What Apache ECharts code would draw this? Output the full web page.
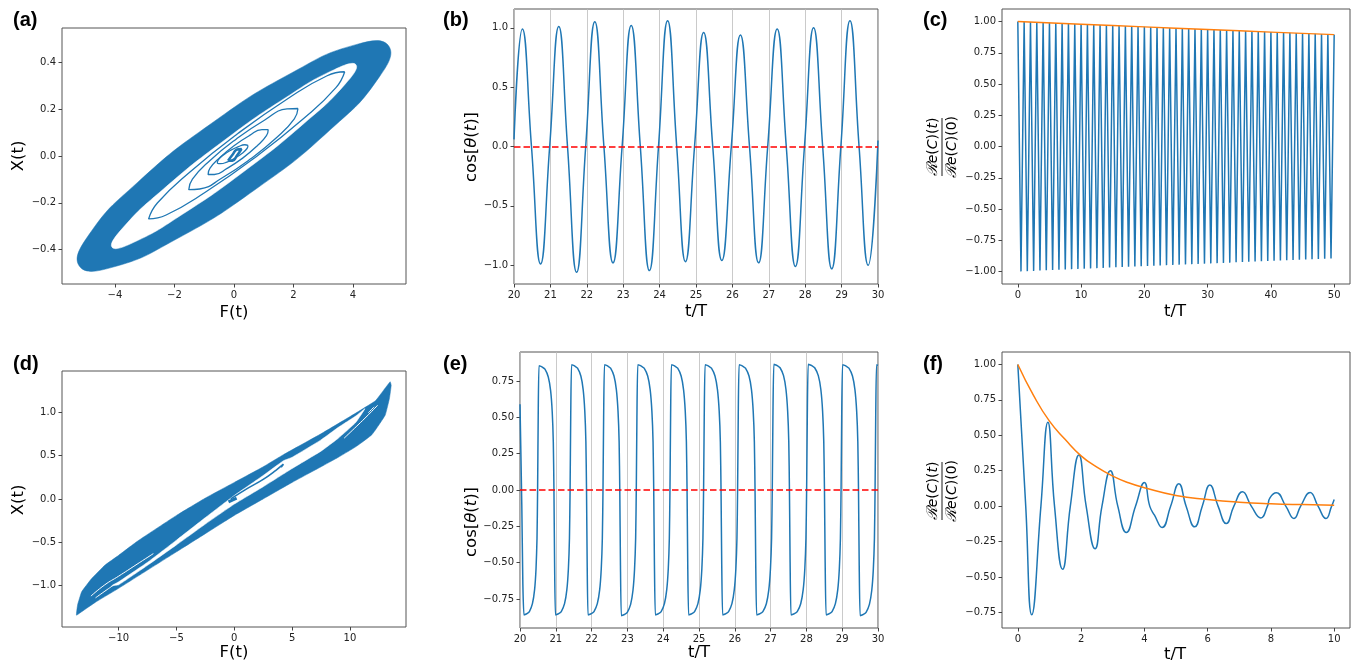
<!DOCTYPE html>
<html>
<head>
<meta charset="UTF-8" />
<title>phase portraits and correlations</title>
<script src="https://cdn.jsdelivr.net/npm/echarts@6/dist/echarts.min.js"></script>
<style>
  html, body { margin: 0; padding: 0; background: #fff; }
  #main { width: 1352px; height: 666px; }
</style>
</head>
<body>
<div id="main"></div>
<script>
// ---- (a) phase portrait: band (outer / inner edge) and inner loops, [F, X]
var aOuter = [[5.2,0.47],[4.128,0.477],[1.95,0.356],[-0.75,0.14],[-3.25,-0.114],[-4.878,-0.337],[-5.2,-0.47],[-4.128,-0.477],[-1.95,-0.356],[0.75,-0.14],[3.25,0.114],[4.878,0.337]];
var aInner = [[4.1,0.39],[3.367,0.369],[1.731,0.249],[-0.368,0.063],[-2.369,-0.141],[-3.735,-0.307],[-4.1,-0.39],[-3.367,-0.369],[-1.731,-0.249],[0.368,-0.063],[2.369,0.141],[3.735,0.307]];
var aLoop1 = [[3.72,0.36],[3.13,0.343],[1.816,0.246],[0.129,0.096],[-1.48,-0.068],[-2.576,-0.201],[-2.87,-0.269],[-2.28,-0.252],[-0.966,-0.155],[0.722,-0.005],[2.33,0.159],[3.426,0.292],[3.72,0.36]];
var aLoop2 = [[2.15,0.203],[1.782,0.201],[1.021,0.153],[0.07,0.072],[-0.815,-0.02],[-1.397,-0.099],[-1.52,-0.144],[-1.152,-0.141],[-0.391,-0.093],[0.56,-0.012],[1.445,0.08],[2.027,0.159],[2.15,0.203]];
var aLoop3 = [[1.15,0.113],[0.94,0.113],[0.514,0.087],[-0.011,0.043],[-0.496,-0.009],[-0.811,-0.053],[-0.87,-0.079],[-0.66,-0.079],[-0.234,-0.053],[0.291,-0.009],[0.776,0.043],[1.091,0.087],[1.15,0.113]];
var aLoop4 = [[0.47,0.045],[0.364,0.048],[0.148,0.04],[-0.119,0.024],[-0.366,0.003],[-0.528,-0.017],[-0.56,-0.03],[-0.454,-0.033],[-0.239,-0.026],[0.029,-0.009],[0.277,0.012],[0.438,0.032],[0.47,0.045]];
var aCore = [[-0.2,-0.02],[-0.05,0.005],[0.1,0.028],[0.25,0.03],[0.1,0.002],[-0.05,-0.02],[-0.2,-0.02]];
var aXTicks = [-4,-2,0,2,4];
var aYTicks = [-0.4,-0.2,0,0.2,0.4];

// ---- (b) cos theta, 20..30
var bStartV = 0.06, bEndV = 0.05;
var bPeakT = [20.23,21.23,22.22,23.22,24.22,25.21,26.22,27.23,28.23,29.23];
var bPeakV = [0.99,1.01,1.05,1.02,1.06,0.96,0.94,0.99,1.00,1.06];
var bTroughT = [20.73,21.72,22.72,23.72,24.71,25.71,26.72,27.73,28.73,29.73];
var bTroughV = [-0.99,-1.06,-0.98,-1.045,-0.97,-0.96,-0.98,-1.01,-1.03,-1.00];
var bDownZeroT = [20.48,21.47,22.47,23.47,24.47,25.46,26.47,27.48,28.48,29.48];
var bUpZeroT = [20.98,21.97,22.97,23.97,24.96,25.97,26.97,27.98,28.98];
var bYTicks = [-1,-0.5,0,0.5,1];

// ---- (c) correlation, zigzag peaks at t = 0,1,..,50 and troughs half way
var cPeakV = [1.000,0.998,0.996,0.993,0.991,0.989,0.987,0.985,0.982,0.980,0.978,0.976,0.974,0.972,0.969,0.967,0.965,0.963,0.961,0.959,0.957,0.955,0.953,0.950,0.948,0.946,0.944,0.942,0.940,0.938,0.936,0.934,0.932,0.930,0.928,0.925,0.923,0.921,0.919,0.917,0.915,0.913,0.911,0.909,0.907,0.905,0.903,0.901,0.899,0.897,0.895];
var cTroughV = [-0.999,-0.997,-0.995,-0.992,-0.990,-0.988,-0.986,-0.984,-0.981,-0.979,-0.977,-0.975,-0.973,-0.971,-0.968,-0.966,-0.964,-0.962,-0.960,-0.958,-0.956,-0.954,-0.952,-0.949,-0.947,-0.945,-0.943,-0.941,-0.939,-0.937,-0.935,-0.933,-0.931,-0.929,-0.926,-0.924,-0.922,-0.920,-0.918,-0.916,-0.914,-0.912,-0.910,-0.908,-0.906,-0.904,-0.902,-0.900,-0.898,-0.896];
var cPeriod = 1;
var cEnv = [[0,1.0],[10,0.978],[20,0.957],[30,0.936],[40,0.915],[50,0.895]];
var cXTicks = [0,10,20,30,40,50];
var cYTicks = [-1,-0.75,-0.5,-0.25,0,0.25,0.5,0.75,1];

// ---- (d) phase portrait: outer outline, white lens, streaks
var dOuter = [[-13.65,-1.34],[-13.55,-1.22],[-13.2,-1.07],[-12.35,-0.92],[-11.2,-0.765],[-10,-0.65],[-8.3,-0.48],[-5,-0.19],[-2.5,0.01],[0,0.19],[2.5,0.37],[4.25,0.51],[7.5,0.75],[10.4,0.98],[12.2,1.13],[12.9,1.25],[13.48,1.35],[13.57,1.31],[13.42,1.16],[13.05,0.965],[11.9,0.74],[10.5,0.60],[9,0.48],[7.5,0.37],[5,0.19],[2.5,0.0],[0,-0.19],[-2.5,-0.40],[-5,-0.61],[-7.5,-0.82],[-10,-1.03],[-12,-1.19],[-13.2,-1.30]];
var dLens = [[-10.6,-1.0],[-10,-0.955],[-7.5,-0.73],[-5,-0.475],[-2.5,-0.215],[0,0.04],[2.5,0.27],[4.25,0.44],[5,0.48],[7.5,0.68],[9,0.825],[10.5,0.955],[11.3,1.04],[10.5,0.88],[9,0.70],[7.5,0.55],[5,0.35],[2.5,0.14],[0,-0.06],[-2.5,-0.29],[-5,-0.53],[-7.5,-0.765],[-10,-0.99]];
var dStreak = [[-0.3,0.0],[1,0.11],[2.5,0.225],[3.6,0.33],[4.25,0.40],[4.05,0.365]];
var dDash = [[-0.5,-0.035],[0.2,0.01]];
var dWhite1 = [[-12.4,-1.12],[-11.2,-0.99],[-10,-0.89],[-8.5,-0.76],[-7,-0.63]];
var dWhite2 = [[-12.0,-1.14],[-11,-1.045],[-10.4,-0.99]];
var dWhite3 = [[12.4,1.08],[11.6,0.97],[10.6,0.84],[9.5,0.70]];
var dWhite4 = [[12.1,1.06],[11.6,0.995]];
var dXTicks = [-10,-5,0,5,10];
var dYTicks = [-1,-0.5,0,0.5,1];

// ---- (e) cos theta, relaxation-like shape
var eStart = [[20,0.59],[20.05,-0.1],[20.08,-0.65]];
var eTroughT = [20.11,20.99,21.90,22.83,23.78,24.71,25.66,26.61,27.57,28.55,29.50];
var eTroughV = [-0.86,-0.86,-0.86,-0.865,-0.86,-0.86,-0.86,-0.86,-0.86,-0.86,-0.865];
var ePeakT = [20.53,21.44,22.36,23.29,24.23,25.17,26.12,27.09,28.05,29.01,29.96];
var ePeakV = [0.855,0.862,0.862,0.862,0.862,0.862,0.862,0.865,0.865,0.862,0.862];
// shape of one fall (peak -> trough), read from the first cycle
var eFrac = [0,0.08,0.2,0.363,0.565,0.707,0.804,0.87,0.909,0.948,1.0];
var eShape = [1,0.997,0.99,0.973,0.91,0.80,0.63,0.385,0,-0.58,-1];
var eEnd = [30,0.858];
var eYTicks = [-0.75,-0.5,-0.25,0,0.25,0.5,0.75];

// ---- (f) correlation, damped
var fBlue = [[0,1.0],[0.25,0],[0.44,-0.767],[0.73,0],[0.95,0.592],[1.16,0],[1.415,-0.446],[1.66,0],[1.93,0.361],[2.16,0],[2.44,-0.30],[2.66,0],[2.925,0.25],[3.16,0],[3.43,-0.186],[3.72,0],[4.0,0.167],[4.17,0],[4.32,-0.064],[4.56,-0.151],[4.83,0],[5.09,0.158],[5.32,0],[5.59,-0.146],[5.83,0],[6.07,0.149],[6.33,0],[6.59,-0.123],[6.83,0],[7.10,0.101],[7.38,0],[7.68,-0.083],[7.89,0],[7.97,0.059],[8.17,0.094],[8.47,0],[8.73,-0.087],[8.94,0],[9.24,0.097],[9.49,0],[9.74,-0.087],[9.92,0],[10.0,0.047]];
var fEnv = [[0,1.0],[0.5,0.78],[1,0.60],[1.5,0.47],[2,0.355],[2.5,0.275],[3,0.212],[3.5,0.165],[4,0.13],[5,0.075],[6,0.047],[7,0.028],[8,0.017],[9,0.011],[10,0.007]];
var fXTicks = [0,2,4,6,8,10];
var fYTicks = [-0.75,-0.5,-0.25,0,0.25,0.5,0.75,1];

var blue = '#1f77b4', orange = '#ff7f0e';

// build the b line: start, then peak / zero / trough / zero per cycle
var bLine = [[20, bStartV]];
for (var i = 0; i < bPeakT.length; i++) {
	bLine.push([bPeakT[i], bPeakV[i]]);
	bLine.push([bDownZeroT[i], 0]);
	bLine.push([bTroughT[i], bTroughV[i]]);
	if (i < bUpZeroT.length) bLine.push([bUpZeroT[i], 0]);
}
bLine.push([30, bEndV]);

// c zigzag
var cLine = [];
for (var k = 0; k < cPeakV.length; k++) {
	cLine.push([k * cPeriod, cPeakV[k]]);
	if (k < cTroughV.length) cLine.push([(k + 0.5) * cPeriod, cTroughV[k]]);
}

// e line: extremes joined with the read shape
var eLine = eStart.slice();
var ext = [];
for (var i = 0; i < eTroughT.length; i++) {
	ext.push([eTroughT[i], eTroughV[i]]);
	ext.push([ePeakT[i], ePeakV[i]]);
}
eLine.push(ext[0]);
for (var k = 1; k < ext.length; k++) {
	var p0 = ext[k - 1], p1 = ext[k];
	var rising = p1[1] > p0[1];
	var pV = rising ? p1[1] : p0[1], tV = rising ? p0[1] : p1[1];
	for (var j = 1; j < eFrac.length; j++) {
		var s = rising ? -eShape[j] : eShape[j];
		var v = (j === eFrac.length - 1) ? p1[1] : (s >= 0 ? s * pV : -s * tV);
		eLine.push([p0[0] + eFrac[j] * (p1[0] - p0[0]), v]);
	}
}
eLine.push(eEnd);

function fmt(v, d) {
	var s = Math.abs(v) < 1e-9 ? (0).toFixed(d) : v.toFixed(d);
	return s.replace('-', '\u2212');
}

var tickFont = { color: '#222', fontSize: 10, fontFamily: 'DejaVu Sans' };

function axis(idx, min, max, ticks, dec, extra) {
	var o = {
		type: 'value', gridIndex: idx, min: min, max: max,
		axisLine: { show: false, onZero: false },
		splitLine: { show: false },
		axisTick: { show: true, length: 3.5, lineStyle: { color: '#444', width: 1 } },
		axisLabel: Object.assign({ margin: 6, formatter: function (v) { return fmt(v, dec); } }, tickFont)
	};
	if (ticks) {
		o.axisTick.customValues = ticks;
		o.axisLabel.customValues = ticks;
	}
	if (extra) Object.assign(o, extra);
	return o;
}

var grids = [
	{ left: 62, top: 28, width: 344, height: 256 },
	{ left: 514, top: 9, width: 364, height: 275 },
	{ left: 1002, top: 9, width: 348, height: 275 },
	{ left: 62, top: 371, width: 344, height: 256 },
	{ left: 520, top: 352, width: 358, height: 276 },
	{ left: 1002, top: 352, width: 348, height: 276 }
].map(function (g) {
	return Object.assign({ show: true, borderColor: '#555', borderWidth: 1, backgroundColor: 'transparent', containLabel: false }, g);
});

var timeGrid = { splitLine: { show: true, lineStyle: { color: '#bdbdbd', width: 0.8 } }, interval: 1 };

var xAxes = [
	axis(0, -5.78, 5.78, aXTicks, 0),
	axis(1, 20, 30, null, 0, timeGrid),
	axis(2, -2.5, 52.5, cXTicks, 0),
	axis(3, -14.9, 14.85, dXTicks, 0),
	axis(4, 20, 30, null, 0, timeGrid),
	axis(5, -0.5, 10.5, fXTicks, 0)
];
var yAxes = [
	axis(0, -0.547, 0.547, aYTicks, 1),
	axis(1, -1.158, 1.158, bYTicks, 1),
	axis(2, -1.1, 1.1, cYTicks, 2),
	axis(3, -1.476, 1.474, dYTicks, 1),
	axis(4, -0.95, 0.95, eYTicks, 2),
	axis(5, -0.86, 1.088, fYTicks, 2)
];

function poly(idx, pts, fill, smooth) {
	return {
		type: 'custom', xAxisIndex: idx, yAxisIndex: idx, data: pts,
		encode: { x: 0, y: 1 }, silent: true,
		renderItem: function (params, api) {
			if (params.dataIndex !== 0) return null;
			return {
				type: 'polygon',
				shape: { points: pts.map(function (p) { return api.coord(p); }), smooth: smooth },
				style: { fill: fill, stroke: fill, lineWidth: 0.5 }
			};
		}
	};
}

function line(idx, pts, color, width, smooth, extra) {
	var o = {
		type: 'line', xAxisIndex: idx, yAxisIndex: idx, data: pts,
		showSymbol: false, symbol: 'none', silent: true,
		smooth: smooth, lineStyle: { color: color, width: width }
	};
	if (extra) Object.assign(o, extra);
	return o;
}

var zeroLine = {
	markLine: {
		silent: true, symbol: ['none', 'none'], label: { show: false },
		lineStyle: { color: '#ff0000', type: [6.5, 3], width: 1.5 },
		data: [{ yAxis: 0 }]
	}
};

var series = [
	poly(0, aOuter, blue, 0.5),
	poly(0, aInner, '#ffffff', 0.5),
	line(0, aLoop1, blue, 1.3, 0.5),
	line(0, aLoop2, blue, 1.3, 0.5),
	line(0, aLoop3, blue, 1.3, 0.5),
	line(0, aLoop4, blue, 1.3, 0.5),
	line(0, aCore, blue, 2.5, 0.5),

	line(1, bLine, blue, 1.5, 0.5, zeroLine),

	line(2, cLine, blue, 1.5, false),
	line(2, cEnv, orange, 1.5, 0.5),

	poly(3, dOuter, blue, 0.1),
	poly(3, dLens, '#ffffff', 0.1),
	line(3, dStreak, blue, 1.6, 0.4),
	line(3, dDash, blue, 3, false),
	line(3, dWhite1, '#ffffff', 1, 0.5),
	line(3, dWhite2, '#ffffff', 1, 0.5),
	line(3, dWhite3, '#ffffff', 1, 0.5),
	line(3, dWhite4, '#ffffff', 1, 0.5),

	line(4, eLine, blue, 1.5, 0.2, zeroLine),

	line(5, fBlue, blue, 1.5, 0.5),
	line(5, fEnv, orange, 1.5, 0.5)
];

// texts
var labFont = { fontSize: 16.5, fontFamily: 'DejaVu Sans', fill: '#000', align: 'center', verticalAlign: 'middle' };
function txt(x, y, s, rot, rich) {
	var st = Object.assign({ text: s }, labFont);
	if (rich) st.rich = rich;
	return { type: 'text', x: x, y: y, rotation: rot || 0, style: st, silent: true };
}
function letter(x, y, s) {
	return { type: 'text', x: x, y: y, silent: true,
		style: { text: s, fontSize: 20, fontWeight: 'bold', fontFamily: 'Liberation Sans', fill: '#000', verticalAlign: 'middle' } };
}
var cosRich = {
	n: { fontSize: 16.5, fontFamily: 'DejaVu Sans' },
	i: { fontSize: 16.5, fontFamily: 'DejaVu Sans', fontStyle: 'italic' }
};
var fracRich = {
	n: { fontSize: 14, fontFamily: 'DejaVu Sans' },
	i: { fontSize: 14, fontFamily: 'DejaVu Sans', fontStyle: 'italic' },
	m: { fontSize: 15, fontFamily: 'DejaVu Serif', fontStyle: 'italic' }
};
function frac(x, y) {
	var base = { fill: '#000', align: 'center', verticalAlign: 'middle', rich: fracRich };
	return {
		type: 'group', x: x, y: y, rotation: Math.PI / 2, silent: true,
		children: [
			{ type: 'text', x: 0, y: -9, style: Object.assign({ text: '{m|\u211B}{i|e}{n|(}{i|C}{n|)(}{i|t}{n|)}' }, base) },
			{ type: 'line', shape: { x1: -29, y1: 0, x2: 29, y2: 0 }, style: { stroke: '#000', lineWidth: 0.9 } },
			{ type: 'text', x: 0, y: 10, style: Object.assign({ text: '{m|\u211B}{i|e}{n|(}{i|C}{n|)(0)}' }, base) }
		]
	};
}
var cosText = '{n|cos[}{i|\u03B8}{n|(}{i|t}{n|)]}';

var graphics = [
	letter(13, 20, '(a)'), letter(443, 20, '(b)'), letter(923, 20, '(c)'),
	letter(13, 364, '(d)'), letter(443, 364, '(e)'), letter(923, 364, '(f)'),
	txt(234, 313, 'F(t)'), txt(234, 653, 'F(t)'),
	txt(19, 156, 'X(t)', Math.PI / 2), txt(19, 500, 'X(t)', Math.PI / 2),
	txt(696, 312, 't/T'), txt(699, 653, 't/T'), txt(1175, 312, 't/T'), txt(1175, 655, 't/T'),
	txt(472, 147, cosText, Math.PI / 2, cosRich), txt(472, 522, cosText, Math.PI / 2, cosRich),
	frac(942, 147), frac(942, 491)
];

var myChart = echarts.init(document.getElementById('main'), null, { renderer: 'canvas' });
myChart.setOption({
	animation: false,
	backgroundColor: '#ffffff',
	grid: grids,
	xAxis: xAxes,
	yAxis: yAxes,
	series: series,
	graphic: graphics
});
</script>
</body>
</html>
